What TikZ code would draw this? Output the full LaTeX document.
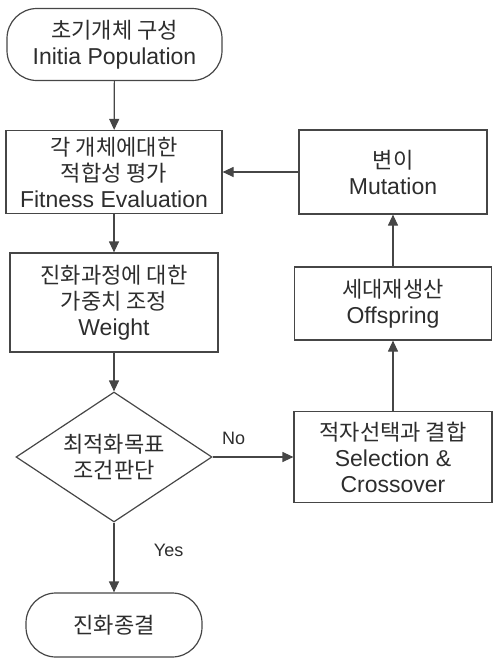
\documentclass[tikz,border=0pt]{standalone}
\usepackage{fontspec}
\setmainfont{Liberation Sans}
\newfontfamily\hangul[Scale=0.96]{Noto Sans CJK KR}
\newcommand\hg[1]{{\hangul #1}}
\usetikzlibrary{shapes.geometric,arrows.meta}
\definecolor{linegray}{RGB}{70,70,70}
\definecolor{textgray}{RGB}{45,45,45}

\begin{document}
\begin{tikzpicture}[x=1pt,y=-1pt,
  box/.style={draw=linegray,line width=1.2pt,text=textgray,align=center,inner sep=0pt,font=\fontsize{23}{26}\selectfont},
  term/.style={box,rounded corners=30pt},
  cond/.style={box,diamond,aspect=1.5},
  flow/.style={draw=linegray,line width=1.2pt,-{Triangle[length=11pt,width=10pt]}},
  lbl/.style={text=textgray,font=\fontsize{18}{20}\selectfont}]
\useasboundingbox (0,0) rectangle (494,659);

\node[term,minimum width=215pt,minimum height=72pt] (init) at (114.5,44.5) {\hg{초기개체 구성}\\Initia Population};
\node[box,minimum width=216pt,minimum height=83pt] (fitness) at (114,172) {\hg{각 개체에대한}\\\hg{적합성 평가}\\Fitness Evaluation};
\node[box,minimum width=208pt,minimum height=99pt] (weight) at (114,302.5) {\hg{진화과정에 대한}\\\hg{가중치 조정}\\Weight};
\node[cond,minimum width=196pt,minimum height=130pt] (check) at (114,457) {\hg{최적화목표}\\\hg{조건판단}};
\node[term,minimum width=176pt,minimum height=64pt] (stop) at (114,625) {\hg{진화종결}};

\node[box,minimum width=198pt,minimum height=91pt] (select) at (393,457) {\hg{적자선택과 결합}\\Selection \&\\Crossover};
\node[box,minimum width=197pt,minimum height=73pt] (offspring) at (393,303.5) {\hg{세대재생산}\\Offspring};
\node[box,minimum width=188pt,minimum height=84pt] (mutation) at (393,172) {\hg{변이}\\Mutation};

\draw[flow] (init) -- (fitness);
\draw[flow] (fitness) -- (weight);
\draw[flow] (weight) -- (check);
\draw[flow] (check) -- node[lbl,pos=0.4,right=36pt] {Yes} (stop);
\draw[flow] (check) -- node[lbl,pos=0.26,above=8pt] {No} (select);
\draw[flow] (select) -- (offspring);
\draw[flow] (offspring) -- (mutation);
\draw[flow] (mutation) -- (fitness);
\end{tikzpicture}
\end{document}
